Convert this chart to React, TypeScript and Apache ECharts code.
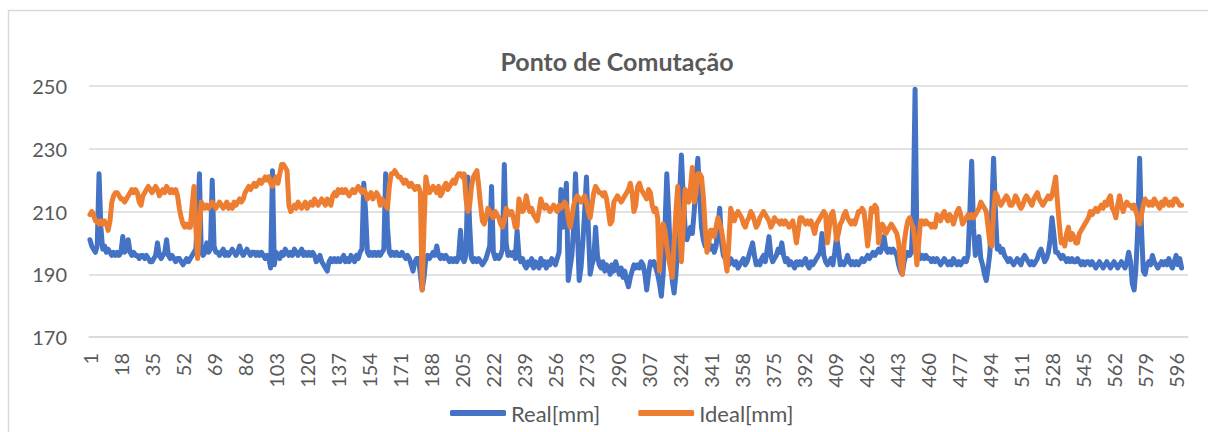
import React, { useEffect, useRef } from "react";
import * as echarts from "echarts";

const TITLE = "Ponto de Comutação";
const SERIES_NAMES = ["Real[mm]", "Ideal[mm]"];
const CATEGORY_COUNT = 602;
const categories: string[] = Array.from({ length: CATEGORY_COUNT }, (_, i) => String(i + 1));
const yTicks = { min: 170, max: 250, interval: 20 };

const real: number[] = [
  201, 199, 198, 197, 199, 222, 205, 198, 199, 197,
  198, 197, 196, 197, 196, 197, 196, 197, 202, 197,
  198, 201, 197, 196, 197, 196, 196, 195, 196, 196,
  195, 196, 195, 194, 194, 195, 196, 200, 196, 195,
  196, 197, 201, 196, 195, 196, 195, 194, 195, 195,
  194, 193, 194, 195, 194, 195, 196, 197, 198, 208,
  222, 197, 196, 197, 200, 197, 198, 220, 199, 197,
  197, 196, 197, 198, 196, 197, 196, 197, 198, 197,
  196, 197, 199, 197, 196, 197, 198, 197, 196, 197,
  197, 196, 197, 196, 197, 196, 195, 196, 195, 192,
  223, 193, 197, 196, 195, 197, 196, 198, 197, 196,
  197, 196, 198, 197, 196, 197, 198, 196, 197, 196,
  197, 196, 197, 196, 194, 195, 196, 194, 193, 192,
  191, 194, 195, 194, 195, 194, 195, 194, 195, 196,
  194, 195, 194, 196, 195, 194, 196, 195, 197, 198,
  219, 210, 197, 196, 197, 196, 197, 196, 197, 196,
  197, 198, 222, 205, 197, 196, 197, 196, 197, 196,
  196, 197, 196, 195, 196, 195, 193, 191, 194, 195,
  195, 190, 185, 189, 195, 196, 195, 196, 197, 196,
  199, 196, 195, 196, 195, 196, 195, 194, 195, 194,
  195, 194, 196, 204, 195, 194, 196, 221, 206, 195,
  194, 195, 194, 195, 194, 193, 194, 195, 197, 199,
  218, 197, 195, 196, 195, 196, 198, 225, 200, 196,
  197, 196, 197, 195, 204, 196, 194, 195, 193, 192,
  194, 193, 195, 192, 194, 193, 192, 195, 193, 194,
  192, 194, 193, 195, 194, 193, 195, 197, 217, 205,
  212, 219, 188, 192, 196, 205, 222, 205, 188, 192,
  200, 210, 221, 205, 190, 193, 195, 205, 196, 193,
  192, 194, 191, 193, 192, 190, 193, 191, 194, 192,
  190, 192, 189, 191, 188, 186, 189, 191, 193, 192,
  193, 192, 194, 193, 190, 185, 190, 194, 193, 194,
  192, 190, 187, 183, 190, 205, 222, 210, 195, 188,
  184, 190, 200, 215, 228, 215, 205, 201, 203, 205,
  203, 210, 220, 227, 215, 205, 201, 199, 202, 200,
  198, 199, 197, 199, 205, 211, 200, 196, 195, 194,
  193, 195, 194, 193, 194, 192, 193, 194, 195, 193,
  194, 196, 198, 200, 196, 193, 194, 193, 195, 196,
  194, 198, 202, 196, 194, 195, 196, 198, 197, 200,
  196, 194, 195, 193, 194, 193, 192, 194, 193, 194,
  193, 194, 195, 193, 192, 194, 193, 194, 195, 196,
  197, 203, 196, 194, 193, 194, 195, 193, 197, 202,
  198, 193, 194, 193, 194, 196, 194, 193, 194, 193,
  194, 193, 194, 195, 194, 195, 196, 195, 196, 197,
  196, 197, 198, 197, 199, 202, 198, 197, 198, 197,
  198, 197, 196, 193, 191, 190, 194, 196, 197, 196,
  197, 210, 249, 200, 196, 195, 196, 195, 196, 195,
  195, 194, 195, 194, 195, 194, 193, 194, 195, 194,
  193, 194, 193, 195, 194, 193, 194, 193, 194, 195,
  194, 196, 210, 226, 205, 196, 200, 202, 195, 193,
  190, 188, 192, 197, 210, 227, 210, 198, 199, 197,
  198, 196, 195, 194, 195, 194, 193, 194, 195, 194,
  193, 195, 196, 195, 194, 193, 194, 193, 194, 195,
  197, 198, 196, 194, 195, 197, 201, 208, 203, 197,
  197, 196, 195, 196, 195, 194, 195, 194, 195, 194,
  194, 195, 194, 193, 194, 193, 194, 194, 193, 194,
  193, 192, 193, 194, 193, 192, 193, 194, 193, 192,
  193, 194, 193, 192, 193, 194, 193, 192, 194, 197,
  194, 187, 185, 192, 205, 227, 205, 191, 190, 193,
  194, 193, 196, 194, 193, 192, 193, 194, 193, 194,
  193, 195, 193, 192, 194, 196, 193, 195, 192,
];

const ideal: number[] = [
  209, 210, 209, 207, 207, 206, 207, 206, 207, 206,
  204, 207, 213, 215, 216, 216, 215, 214, 214, 213,
  214, 215, 216, 217, 216, 217, 216, 213, 212, 215,
  216, 217, 218, 217, 216, 217, 218, 217, 215, 216,
  217, 216, 218, 217, 216, 217, 216, 217, 215, 211,
  208, 206, 205, 206, 205, 205, 212, 218, 205, 195,
  205, 213, 212, 211, 212, 211, 212, 213, 212, 211,
  212, 213, 212, 211, 212, 213, 211, 212, 211, 213,
  212, 213, 214, 213, 214, 216, 217, 218, 217, 218,
  219, 218, 219, 220, 219, 220, 221, 220, 221, 219,
  218, 220, 221, 219, 222, 225, 225, 224, 223, 212,
  210, 211, 212, 211, 213, 212, 211, 212, 213, 211,
  212, 213, 212, 214, 213, 212, 213, 214, 213, 212,
  214, 213, 212, 215, 216, 215, 217, 216, 217, 216,
  217, 216, 215, 216, 217, 216, 217, 218, 217, 216,
  217, 216, 214, 215, 216, 214, 215, 216, 215, 212,
  214, 213, 212, 211, 218, 222, 222, 223, 222, 221,
  221, 220, 219, 220, 219, 218, 219, 218, 217, 218,
  218, 216, 185, 205, 221, 218, 216, 217, 218, 217,
  216, 218, 215, 216, 218, 219, 217, 218, 219, 220,
  219, 221, 222, 222, 221, 222, 214, 210, 212, 218,
  221, 222, 223, 218, 212, 207, 206, 208, 211, 210,
  209, 208, 210, 209, 208, 206, 205, 207, 211, 210,
  209, 210, 208, 205, 205, 214, 212, 210, 211, 215,
  212, 210, 211, 209, 208, 207, 210, 214, 212, 211,
  212, 211, 210, 211, 212, 211, 210, 212, 211, 212,
  213, 212, 208, 205, 208, 212, 214, 215, 214, 213,
  214, 215, 213, 210, 208, 212, 216, 218, 217, 216,
  216, 215, 216, 214, 210, 206, 207, 213, 214, 215,
  214, 213, 214, 215, 216, 217, 219, 216, 210, 212,
  218, 219, 217, 216, 215, 214, 217, 216, 212, 210,
  211, 208, 191, 200, 206, 204, 199, 195, 192, 189,
  200, 210, 218, 205, 194, 205, 217, 215, 213, 218,
  224, 213, 216, 222, 222, 221, 215, 205, 197, 200,
  204, 204, 202, 205, 208, 206, 204, 200, 195, 191,
  200, 211, 209, 207, 209, 210, 209, 208, 206, 205,
  207, 208, 210, 209, 207, 205, 206, 208, 209, 210,
  209, 208, 207, 205, 206, 208, 207, 207, 206, 207,
  206, 207, 206, 205, 206, 207, 204, 200, 204, 208,
  208, 207, 206, 207, 206, 207, 205, 203, 206, 207,
  208, 209, 210, 209, 200, 205, 209, 210, 206, 201,
  203, 206, 207, 209, 210, 208, 207, 206, 207, 206,
  208, 210, 210, 211, 210, 205, 199, 204, 211, 210,
  212, 211, 200, 204, 206, 205, 203, 204, 205, 206,
  205, 204, 203, 200, 193, 190, 200, 204, 207, 208,
  206, 205, 200, 193, 200, 207, 207, 206, 207, 206,
  206, 205, 206, 205, 209, 208, 207, 209, 210, 208,
  207, 209, 208, 206, 208, 210, 211, 209, 206, 207,
  208, 209, 208, 209, 208, 209, 210, 211, 213, 212,
  211, 210, 205, 200, 199, 210, 216, 215, 213, 212,
  213, 214, 215, 214, 212, 212, 213, 215, 214, 212,
  211, 212, 214, 215, 214, 213, 212, 214, 215, 216,
  214, 213, 212, 213, 214, 215, 214, 215, 218, 221,
  213, 206, 200, 201, 199, 203, 205, 201, 203, 202,
  200, 200, 203, 204, 205, 206, 207, 208, 210, 209,
  210, 211, 210, 211, 212, 211, 213, 212, 214, 215,
  211, 210, 208, 212, 215, 212, 210, 212, 213, 212,
  212, 211, 212, 210, 208, 206, 209, 212, 214, 213,
  212, 213, 212, 214, 213, 212, 211, 213, 212, 214,
  213, 212, 213, 212, 214, 214, 213, 212, 212,
];

const COLORS = ["#4472C4", "#ED7D31"];
const FONT = "Lato, 'Noto Sans', sans-serif";

export default function App() {
  const ref = useRef<HTMLDivElement>(null);
  useEffect(() => {
    if (!ref.current) return;
    const chart = echarts.init(ref.current, undefined, { renderer: "svg" });
    chart.setOption({
      animation: false,
      backgroundColor: "#ffffff",
      textStyle: { fontFamily: FONT },
      title: {
        text: TITLE,
        left: 612,
        top: 43,
        textAlign: "center",
        textStyle: { fontFamily: FONT, fontSize: 25, fontWeight: "bold", color: "#595959" },
      },
      graphic: [
        {
          type: "rect",
          shape: { x: 8.5, y: 10.5, width: 1220, height: 440 },
          style: { fill: "none", stroke: "#d9d9d9", lineWidth: 1.5 },
          silent: true,
          z: -1,
        },
      ],
      legend: {
        bottom: 3,
        left: 445,
        itemWidth: 56,
        itemHeight: 6,
        itemGap: 38,
        icon: "roundRect",
        textStyle: { fontFamily: FONT, fontSize: 22, color: "#595959" },
        data: SERIES_NAMES,
      },
      grid: { left: 89, right: 20, top: 86, bottom: 95, containLabel: false },
      xAxis: {
        type: "category",
        data: categories,
        boundaryGap: true,
        axisTick: { show: false },
        axisLine: { lineStyle: { color: "#d9d9d9", width: 1.5 } },
        axisLabel: {
          interval: 16,
          rotate: 90,
          margin: 16,
          fontFamily: FONT,
          fontSize: 20,
          color: "#595959",
        },
      },
      yAxis: {
        type: "value",
        min: yTicks.min,
        max: yTicks.max,
        interval: yTicks.interval,
        axisLine: { show: false },
        axisTick: { show: false },
        splitLine: { lineStyle: { color: "#d9d9d9", width: 1.5 } },
        axisLabel: { fontFamily: FONT, fontSize: 20, color: "#595959", margin: 22 },
      },
      series: [
        {
          name: SERIES_NAMES[0],
          type: "line",
          data: real,
          showSymbol: false,
          symbol: "none",
          color: COLORS[0],
          lineStyle: { width: 5, color: COLORS[0], cap: "round", join: "round" },
        },
        {
          name: SERIES_NAMES[1],
          type: "line",
          data: ideal,
          showSymbol: false,
          symbol: "none",
          color: COLORS[1],
          lineStyle: { width: 5, color: COLORS[1], cap: "round", join: "round" },
        },
      ],
    });
    return () => chart.dispose();
  }, []);
  return (
    <div
      ref={ref}
      style={{ position: "fixed", left: 0, top: 0, width: 1208, height: 432 }}
    />
  );
}
